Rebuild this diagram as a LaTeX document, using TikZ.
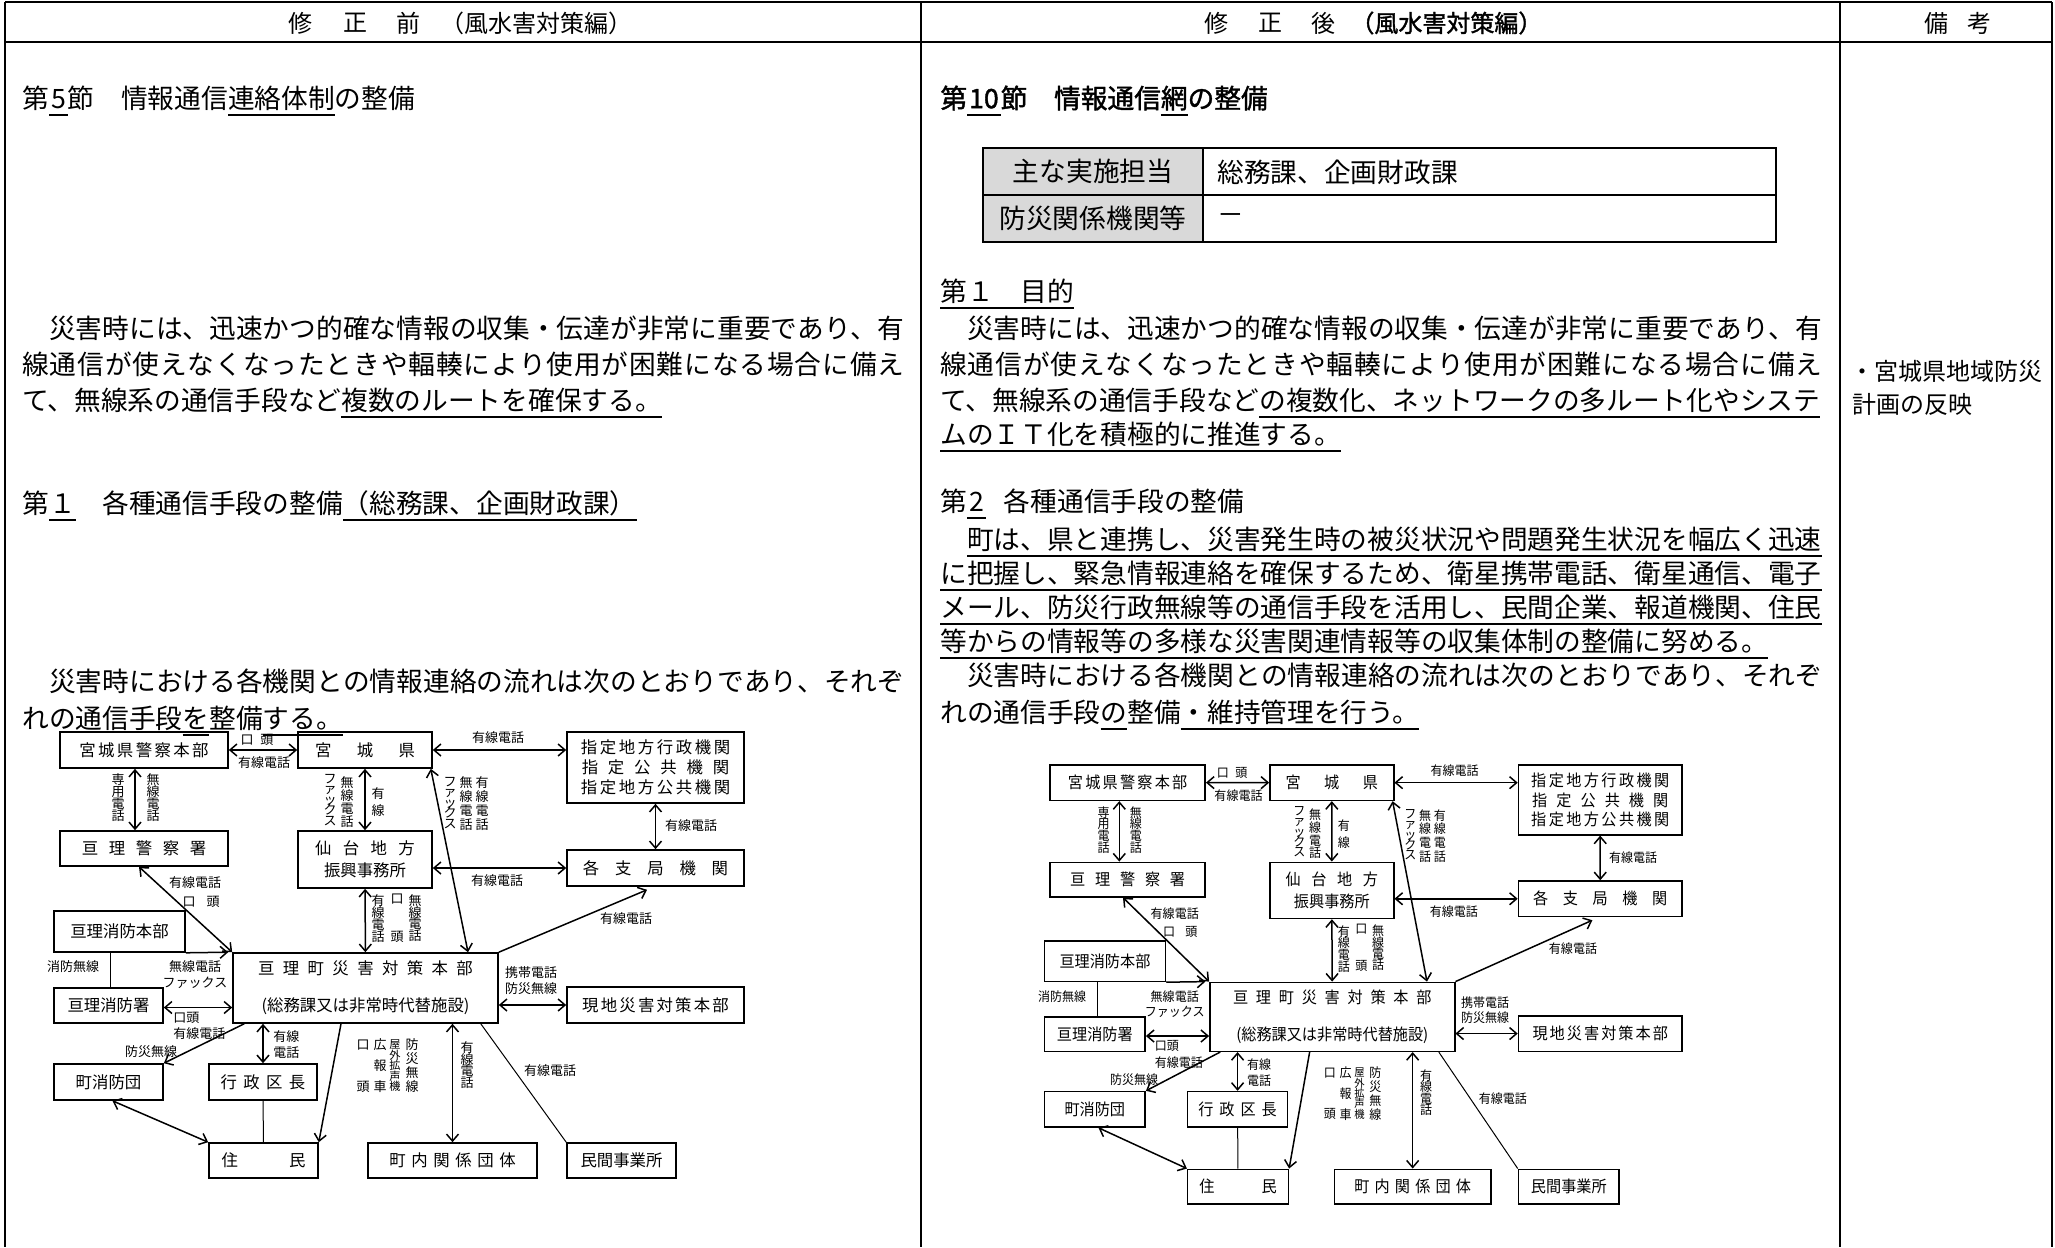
\documentclass[tikz,border=0pt]{standalone}
\usepackage{fontspec}
\newfontfamily\jp{Noto Sans CJK JP}
\newfontfamily\jpb[FakeBold=1.5]{Noto Sans CJK JP}
\usetikzlibrary{arrows.meta}
\makeatletter
\newcommand\lsp[2]{{\def\lsp@f{1}\@tfor\lsp@c:=#2\do{\ifx\lsp@f\@empty\kern#1\fi\lsp@c\let\lsp@f\@empty}}}
\newcommand\jl[2]{\hbox to #1{\def\lsp@f{1}\@tfor\lsp@c:=#2\do{\ifx\lsp@f\@empty\hfil\fi\lsp@c\let\lsp@f\@empty}}}
\newcommand\vstack[2]{\vbox{\baselineskip=#1\lineskiplimit=-\maxdimen\lineskip=0pt\@tfor\lsp@c:=#2\do{\hbox to 1em{\hss\lsp@c\hss}}}}
\makeatother
\newcommand\myul[1]{\setbox0\hbox{#1}\rlap{\smash{\rule[-4pt]{\wd0}{0.9pt}}}\box0}
\newcommand\bodyf{\jp\fontsize{13.35pt}{16pt}\selectfont}
\newcommand\bodyb{\jpb\fontsize{13.35pt}{16pt}\selectfont}
\newcommand\headf{\jp\fontsize{12pt}{14pt}\selectfont}
\newcommand\headb{\jpb\fontsize{12pt}{14pt}\selectfont}
\newcommand\boxf{\jp\fontsize{8.2pt}{10pt}\selectfont}
\newcommand\labf{\jp\fontsize{6.5pt}{7pt}\selectfont}

\newcommand\diag[1]{%
% ---------- boxes ----------
\node[bx, minimum width=84pt, minimum height=18pt] (#1pol) at (144,750) {\lsp{1.2pt}{宮城県警察本部}};
\node[bx, minimum width=67pt, minimum height=18pt] (#1pref) at (365,750) {\lsp{12.7pt}{宮城県}};
\node[bx, minimum width=88.5pt, minimum height=35.5pt, font=\jp\fontsize{8.2pt}{10pt}\selectfont] (#1des) at (655.5,767.5) {\lsp{1.3pt}{指定地方行政機関}\\\lsp{4.9pt}{指定公共機関}\\\lsp{1.3pt}{指定地方公共機関}};
\node[bx, minimum width=84pt, minimum height=17.5pt] (#1wps) at (144,848.5) {\lsp{5.3pt}{亘理警察署}};
\node[bx, minimum width=67pt, minimum height=28.5pt, font=\jp\fontsize{8.2pt}{11pt}\selectfont] (#1sen) at (365,859.5) {\lsp{5.7pt}{仙台地方}\\振興事務所};
\node[bx, minimum width=88.5pt, minimum height=18pt] (#1bra) at (655.5,868) {\lsp{7.9pt}{各支局機関}};
\node[bx, minimum width=65.5pt, minimum height=20.5pt] (#1fhq) at (119.5,931.5) {亘理消防本部};
\node[bx, minimum width=132.5pt, minimum height=35pt, font=\jp\fontsize{8.2pt}{18.5pt}\selectfont] (#1main) at (365.5,988) {\lsp{4.2pt}{亘理町災害対策本部}\\(総務課又は非常時代替施設)};
\node[bx, minimum width=54.5pt, minimum height=17.5pt] (#1fst) at (108.5,1005.5) {亘理消防署};
\node[bx, minimum width=88.5pt, minimum height=18pt] (#1gen) at (655.5,1005) {\lsp{1.1pt}{現地災害対策本部}};
\node[bx, minimum width=54.5pt, minimum height=18pt] (#1fco) at (108.5,1082) {町消防団};
\node[bx, minimum width=54pt, minimum height=18pt] (#1ward) at (263,1082) {\lsp{3.2pt}{行政区長}};
\node[bx, minimum width=54.5pt, minimum height=17.5pt] (#1res) at (263.5,1160.5) {\lsp{25.5pt}{住民}};
\node[bx, minimum width=84.5pt, minimum height=17.5pt] (#1org) at (452.5,1160.5) {\lsp{2.8pt}{町内関係団体}};
\node[bx, minimum width=54.5pt, minimum height=17.5pt] (#1pvt) at (621.5,1160.5) {民間事業所};
% ---------- connectors ----------
\draw[dbl] (#1pol) -- (#1pref);
\draw[dbl] ([xshift=-4.5pt]#1pol.south) -- ([xshift=-4.5pt]#1wps.north);
\draw[dbl] (#1pref) -- (#1sen);
\draw[dbl] (#1pref.east) -- (#1pref.east -| #1des.west);
\draw[dbl] (#1des) -- (#1bra);
\draw[dbl] (#1bra.west -| #1sen.east) -- (#1bra.west);
\draw[dbl] ([xshift=-1pt]#1pref.south east) -- ([xshift=51.25pt]#1main.north);
\draw[dbl] (#1sen) -- (#1main);
\draw[dbl] ([xshift=-2.5pt]#1wps.south) -- (#1main.north west);
\draw[sgl] (#1fhq.south east) -- ([xshift=-2pt]#1main.north west);
\draw[thin] ([xshift=1.2pt]#1fst.north) -- ([xshift=1.2pt]#1fst.north |- #1fhq.south);
\draw[dbl] ([yshift=-1pt]#1fst.east) -- ([yshift=-1pt]#1fst.east -| #1main.west);
\draw[sgl] ([xshift=6pt]#1main.south west) -- (#1fco.north east);
\draw[dbl] (#1ward.north |- #1main.south) -- (#1ward.north);
\draw[thin] (#1ward) -- (#1res);
\draw[dbl] ([xshift=2pt]#1fco.south) -- (#1res.north west);
\draw[sgl] ([xshift=-12.25pt]#1main.south) -- (#1res.north east);
\draw[dbl] (#1org.north |- #1main.south) -- (#1org.north);
\draw[thin] ([xshift=-9pt]#1main.south east) -- (#1pvt.north west);
\draw[dbl] (#1gen.west -| #1main.east) -- (#1gen.west);
\draw[sgl] (#1main.north east) -- ([xshift=-4.25pt,yshift=-1.5pt]#1bra.south);
% ---------- horizontal labels ----------
\node[lab] (#1h1) at (257,740) {口\kern3.5pt 頭};
\node[lab] (#1h2) at (264,763) {有線電話};
\node[lab] (#1h3) at (498,738) {有線電話};
\node[lab] (#1h4) at (691,826) {有線電話};
\node[lab] (#1h5) at (497,881) {有線電話};
\node[lab] (#1h6) at (626,919) {有線電話};
\node[lab] (#1h7) at (195,883) {有線電話};
\node[lab] (#1h8) at (201,902) {口\kern5.5pt 頭};
\node[lab] (#1h9) at (73,967) {消防無線};
\node[lab] (#1h10) at (195,967) {無線電話};
\node[lab] (#1h11) at (195,983) {ファックス};
\node[lab, anchor=west] (#1h12) at (173,1018) {口頭};
\node[lab, anchor=west] (#1h13) at (173,1034) {有線電話};
\node[lab] (#1h14) at (151,1052) {防災無線};
\node[lab, anchor=west] (#1h15) at (273,1037) {有線};
\node[lab, anchor=west] (#1h16) at (273,1053) {電話};
\node[lab] (#1h17) at (550,1071) {有線電話};
\node[lab] (#1h18) at (531,973) {携帯電話};
\node[lab] (#1h19) at (531,989) {防災無線};
% ---------- vertical labels ----------
\node[lab] (#1v1) at (118,798) {\vstack{6pt}{専用電話}};
\node[lab] (#1v2) at (153,798) {\vstack{6pt}{無線電話}};
\node[lab] (#1v3) at (330,800) {\vstack{5.25pt}{ファックス}};
\node[lab] (#1v4) at (347,802) {\vstack{6.5pt}{無線電話}};
\node[lab] (#1v5) at (378,802) {\vstack{8.5pt}{有線}};
\node[lab] (#1v6) at (450,803) {\vstack{5.25pt}{ファックス}};
\node[lab] (#1v7) at (466,804) {\vstack{7pt}{無線電話}};
\node[lab] (#1v8) at (482,804) {\vstack{7pt}{有線電話}};
\node[lab] (#1v9) at (378,919) {\vstack{6pt}{有線電話}};
\node[lab] (#1v10) at (397,918) {\vstack{19pt}{口頭}};
\node[lab] (#1v11) at (415,918) {\vstack{5.75pt}{無線電話}};
\node[lab] (#1v12) at (467,1065) {\vstack{5.75pt}{有線電話}};
\node[lab] (#1v13) at (363,1066) {\vstack{21pt}{口頭}};
\node[lab] (#1v14) at (380,1066) {\vstack{10.5pt}{広報車}};
\node[lab, font=\jp\fontsize{5.6pt}{6pt}\selectfont] (#1v15) at (395,1066) {\vstack{5.25pt}{屋外拡声機}};
\node[lab] (#1v16) at (412,1066) {\vstack{7pt}{防災無線}};
}

\begin{document}
\begin{tikzpicture}[x=0.5pt,y=-0.5pt,
  frame/.style={line width=1.4pt},
  bx/.style={draw, line width=0.8pt, inner sep=0pt, font=\boxf, align=center},
  lab/.style={inner sep=0pt, font=\labf},
  conn/.style={line width=0.75pt},
  dbl/.style={conn, {Straight Barb[length=3.5pt,width=6pt]}-{Straight Barb[length=3.5pt,width=6pt]}},
  sgl/.style={conn, -{Straight Barb[length=3.5pt,width=6pt]}},
  thin/.style={line width=0.5pt},
  txt/.style={anchor=west, inner sep=0pt, font=\bodyf},
  hd/.style={inner sep=0pt, font=\headf},
  cell/.style={draw, line width=1.1pt, inner sep=0pt, font=\bodyf}]
\useasboundingbox (0,0) rectangle (2055,1247);
% ---------- frame ----------
\draw[frame] (5,2) -- (2052,2);
\draw[frame] (5,42) -- (2052,42);
\draw[frame] (5,2) -- (5,1247);
\draw[frame] (921,2) -- (921,1247);
\draw[frame] (1840,2) -- (1840,1247);
\draw[frame] (2052,2) -- (2052,1247);
% ---------- headers ----------
\node[hd] (hl1) at (300,23) {修};
\node[hd] (hl2) at (355,23) {正};
\node[hd] (hl3) at (408,23) {前};
\node[hd, anchor=west] (hl4) at (440,23) {（風水害対策編）};
\node[hd] (hr1) at (1216,23) {修};
\node[hd] (hr2) at (1270,23) {正};
\node[hd] (hr3) at (1323,23) {後};
\node[hd, anchor=west, font=\headb] (hr4) at (1350,23) {（風水害対策編）};
\node[hd] (hb1) at (1936,23) {備};
\node[hd] (hb2) at (1979,23) {考};
% ---------- left column ----------
\node[txt] (l1) at (22,98) {第\myul{\kern1pt 5\kern1pt}節　情報通信\myul{連絡体制}の整備};
\node[txt] (l2) at (22,328) {\jl{441pt}{　災害時には、迅速かつ的確な情報の収集・伝達が非常に重要であり、有}};
\node[txt] (l3) at (22,364) {\jl{441pt}{線通信が使えなくなったときや輻輳により使用が困難になる場合に備え}};
\node[txt] (l4) at (22,400) {て、無線系の通信手段など\myul{複数のルートを確保する。}};
\node[txt] (l5) at (22,503) {第\myul{１}　各種通信手段の整備\myul{（総務課、企画財政課）}};
\node[txt] (l6) at (22,681) {\jl{441pt}{　災害時における各機関との情報連絡の流れは次のとおりであり、それぞ}};
\node[txt] (l7) at (22,718) {れの通信手段\myul{を}整備\myul{する。}};
% ---------- right column ----------
\node[txt, font=\bodyb] (r1) at (940,98) {第\myul{\kern1pt 10\kern1pt}節　情報通信\myul{網}の整備};
\node[cell, fill={rgb,255:red,217;green,217;blue,217}, minimum width=110pt, minimum height=23.5pt] (c11) at (1093,171.5) {主な実施担当};
\node[cell, minimum width=286.5pt, minimum height=23.5pt] (c12) at (1489.5,171.5) {};
\node[cell, fill={rgb,255:red,217;green,217;blue,217}, minimum width=110pt, minimum height=23.5pt] (c21) at (1093,218.5) {防災関係機関等};
\node[cell, minimum width=286.5pt, minimum height=23.5pt] (c22) at (1489.5,218.5) {};
\node[txt] (c12t) at (1217,172) {総務課、企画財政課};
\node[txt] (c22t) at (1217,219) {－};
\node[txt] (r2) at (940,291) {\myul{第１　目的}};
\node[txt] (r3) at (940,328) {\jl{441pt}{　災害時には、迅速かつ的確な情報の収集・伝達が非常に重要であり、有}};
\node[txt] (r4) at (940,364) {\jl{441pt}{線通信が使えなくなったときや輻輳により使用が困難になる場合に備え}};
\node[txt] (r5) at (940,400) {て、無線系の通信手段など\myul{の複数化、ネットワークの多ルート化やシステ}};
\node[txt] (r6) at (940,434) {\myul{ムのＩＴ化を積極的に推進する。}};
\node[txt] (r7) at (940,501) {第\myul{\kern1pt 2\kern1pt}\kern9pt 各種通信手段の整備};
\node[txt] (r8) at (940,539) {　\myul{町は、県と連携し、災害発生時の被災状況や問題発生状況を幅広く迅速}};
\node[txt] (r9) at (940,573) {\myul{に把握し、緊急情報連絡を確保するため、衛星携帯電話、衛星通信、電子}};
\node[txt] (r10) at (940,607) {\myul{メール、防災行政無線等の通信手段を活用し、民間企業、報道機関、住民}};
\node[txt] (r11) at (940,641) {\myul{等からの情報等の多様な災害関連情報等の収集体制の整備に努める。}};
\node[txt] (r12) at (940,675) {\jl{441pt}{　災害時における各機関との情報連絡の流れは次のとおりであり、それぞ}};
\node[txt] (r13) at (940,712) {れの通信手段\myul{の}整備\myul{・維持管理を行う。}};
% ---------- remarks ----------
\node[txt, font=\headf] (n1) at (1850,371) {・宮城県地域防災};
\node[txt, font=\headf] (n2) at (1852,404) {計画の反映};
% ---------- diagrams ----------
\begin{scope}
\diag{L}
\end{scope}
\begin{scope}[shift={(1050,765)}, xscale=0.924, yscale=0.984, shift={(-60,-732)}, transform shape]
\diag{R}
\end{scope}
\end{tikzpicture}
\end{document}
